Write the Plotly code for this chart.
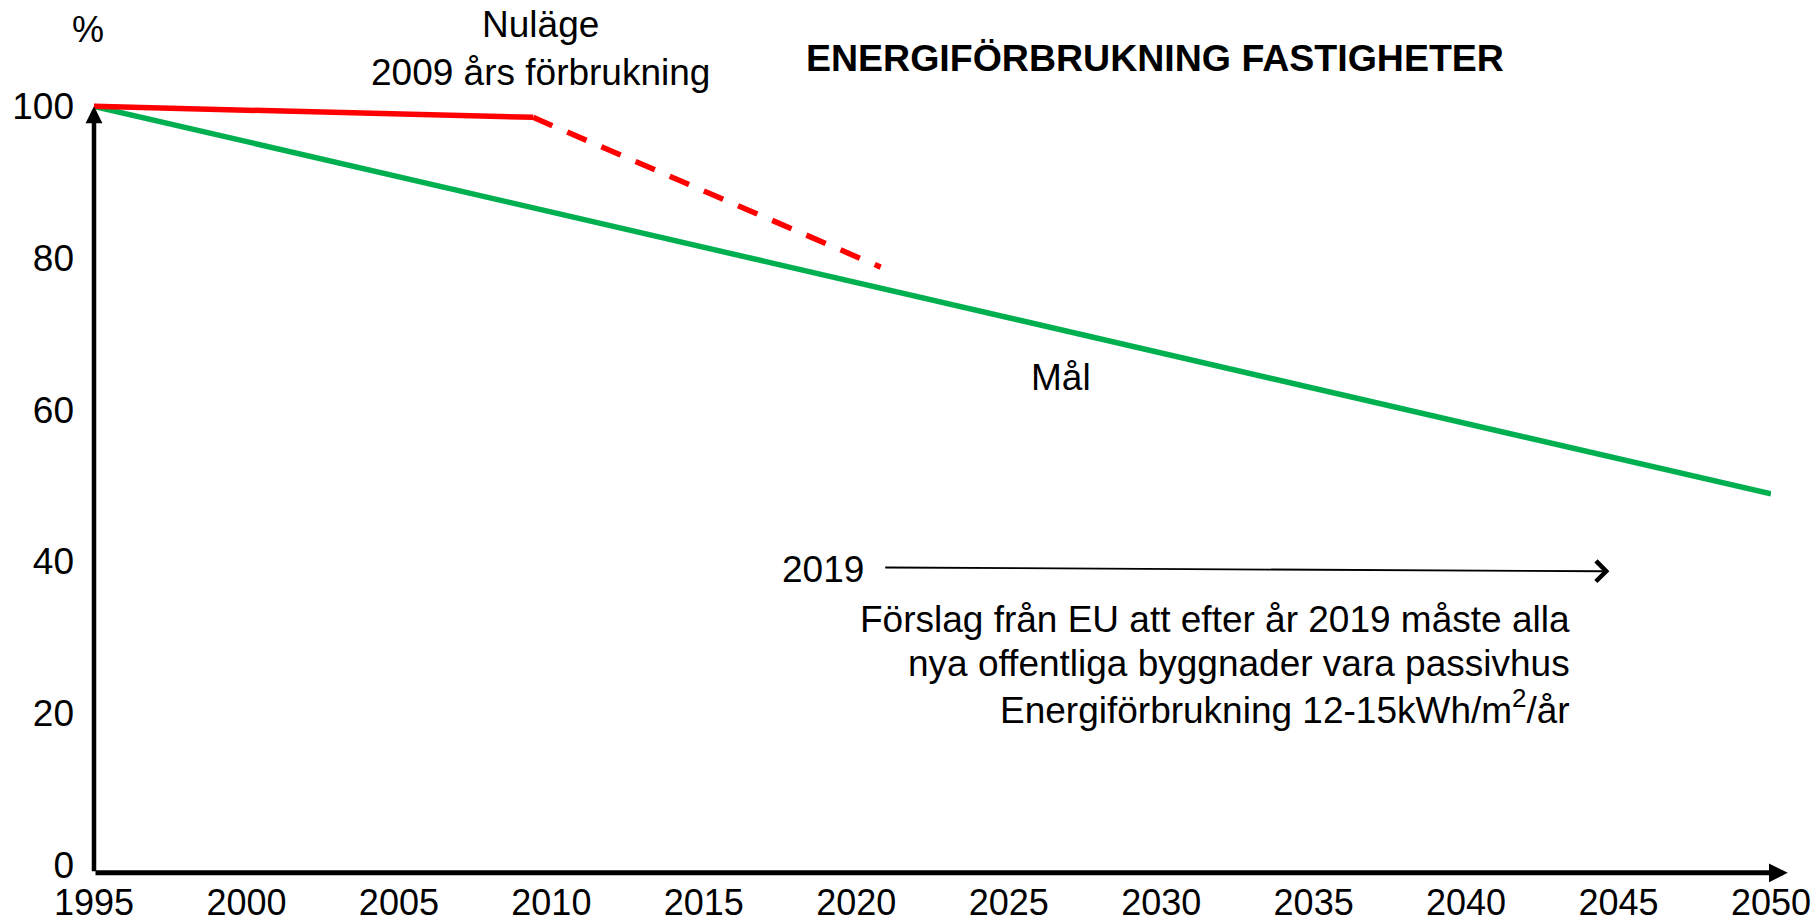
import plotly.graph_objects as go

# ---- data ----
years_goal = [1995, 2050]
goal = [100, 48.9]

years_actual = [1995, 2009.4]
actual = [100, 98.55]

years_forecast = [2009.4, 2020.8]
forecast = [98.55, 78.8]

x_ticks = [1995, 2000, 2005, 2010, 2015, 2020, 2025, 2030, 2035, 2040, 2045, 2050]
y_ticks = [0, 20, 40, 60, 80, 100]

eu_year_start = 2020.9
eu_year_end = 2044.7
eu_level = [39.2, 38.7]

axis_level = -1.05  # baseline drawn just under the 0 label, as in the original

FONT = "Liberation Sans, Arial, sans-serif"
GREEN = "#00B050"
RED = "#FF0000"

fig = go.Figure()
fig.add_trace(go.Scatter(x=years_goal, y=goal, mode="lines",
                         line=dict(color=GREEN, width=5.5), showlegend=False, hoverinfo="skip"))
fig.add_trace(go.Scatter(x=years_actual, y=actual, mode="lines",
                         line=dict(color=RED, width=5.5), showlegend=False, hoverinfo="skip"))
fig.add_trace(go.Scatter(x=years_forecast, y=forecast, mode="lines",
                         line=dict(color=RED, width=5.5, dash="21px,16.2px"), showlegend=False, hoverinfo="skip"))

annotations = []
# axis arrows
annotations.append(dict(x=2050.55, y=axis_level, ax=x_ticks[0], ay=axis_level,
                        xref="x", yref="y", axref="x", ayref="y",
                        text="", showarrow=True, arrowhead=2, arrowsize=0.75, arrowwidth=5,
                        arrowcolor="black", standoff=0, startstandoff=0))
annotations.append(dict(x=x_ticks[0], y=y_ticks[-1], ax=x_ticks[0], ay=axis_level,
                        xref="x", yref="y", axref="x", ayref="y",
                        text="", showarrow=True, arrowhead=2, arrowsize=0.75, arrowwidth=4.5,
                        arrowcolor="black", standoff=0, startstandoff=0))
# EU arrow
annotations.append(dict(x=eu_year_end, y=eu_level[1], ax=eu_year_start, ay=eu_level[0],
                        xref="x", yref="y", axref="x", ayref="y",
                        text="", showarrow=True, arrowhead=4, arrowsize=2.2, arrowwidth=1.8,
                        arrowcolor="black", standoff=0, startstandoff=0))

txt = dict(family=FONT, size=37, color="black")
annotations.append(dict(x=-0.0036, y=1.058, xref="paper", yref="paper", text="%", showarrow=False,
                        font=dict(family=FONT, size=36, color="black"), xanchor="center", yanchor="middle"))
annotations.append(dict(x=0.266, y=1.0345, xref="paper", yref="paper", text="Nuläge<br>2009 års förbrukning",
                        showarrow=False, font=txt, xanchor="center", yanchor="middle", align="center"))
annotations.append(dict(x=2026.7, y=64.3, xref="x", yref="y", text="Mål", showarrow=False,
                        font=txt, xanchor="center", yanchor="middle"))
annotations.append(dict(x=2018.9, y=38.9, xref="x", yref="y", text="2019", showarrow=False,
                        font=txt, xanchor="center", yanchor="middle"))
para_lines = ["Förslag från EU att efter år 2019 måste alla",
              "nya offentliga byggnader vara passivhus",
              "Energiförbrukning 12-15kWh/m<sup>2</sup>/år"]
para_levels = [32.4, 26.5, 20.7]
for line, lvl in zip(para_lines, para_levels):
    annotations.append(dict(x=2043.46, y=lvl, xref="x", yref="y", text=line,
                            showarrow=False, font=txt, xanchor="right", yanchor="middle", align="right"))

fig.update_layout(
    width=1820, height=923,
    margin=dict(l=94, r=49, t=75.6, b=42.8, pad=0),
    paper_bgcolor="white", plot_bgcolor="white",
    title=dict(text="<b>ENERGIFÖRBRUKNING FASTIGHETER</b>", x=0.6346, y=1 - 58 / 923,
               xanchor="center", yanchor="middle",
               font=dict(family=FONT, size=37.5, color="black")),
    xaxis=dict(range=[1995, 2050], tickvals=x_ticks, ticktext=[str(v) for v in x_ticks],
               showgrid=False, zeroline=False, showline=False, ticks="", automargin=False,
               tickfont=dict(family=FONT, size=36, color="black"), ticklabelstandoff=-2),
    yaxis=dict(range=[-2, 104], tickvals=y_ticks, ticktext=[str(v) for v in y_ticks],
               showgrid=False, zeroline=False, showline=False, ticks="", automargin=False,
               tickfont=dict(family=FONT, size=37, color="black"), ticklabelstandoff=19),
    annotations=annotations,
    showlegend=False,
)

fig.write_html("out.html", config={"displayModeBar": False},
               post_script="document.body.style.margin='0px'; document.body.style.overflow='hidden';")
